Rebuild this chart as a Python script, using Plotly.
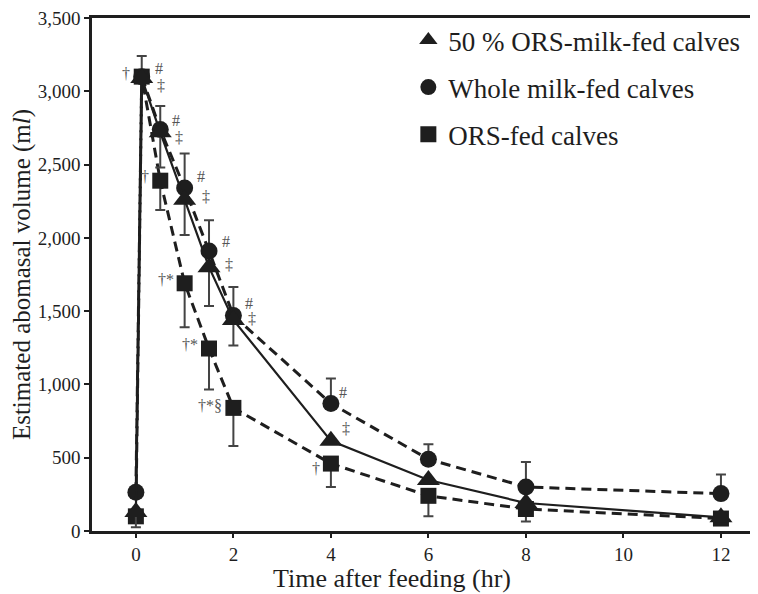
import plotly.graph_objects as go

# ---- data ----
times = [0, 0.12, 0.5, 1, 1.5, 2, 4, 6, 8, 12]

whole_milk = [265, 3100, 2740, 2340, 1910, 1470, 870, 490, 300, 255]
whole_milk_err_plus = [0, 140, 160, 235, 210, 195, 170, 102, 170, 130]

ors_milk = [130, 3090, 2720, 2260, 1800, 1440, 615, 348, 191, 93]
ors_milk_err_minus = [105, 0, 240, 240, 265, 175, 0, 0, 0, 0]

ors = [100, 3100, 2390, 1690, 1245, 840, 460, 240, 150, 85]
ors_err_minus = [0, 0, 200, 300, 280, 260, 160, 140, 85, 0]

x_ticks = [0, 2, 4, 6, 8, 10, 12]
y_ticks = [0, 500, 1000, 1500, 2000, 2500, 3000, 3500]

legend_names = ["50 % ORS-milk-fed calves", "Whole milk-fed calves", "ORS-fed calves"]

INK = "#1e1e1e"
ERR = "#444444"
FONT = "Liberation Serif"

fig = go.Figure()

# ORS-fed (squares, dashed)
fig.add_trace(go.Scatter(
    x=times, y=ors, mode="lines+markers", showlegend=False,
    line=dict(color=INK, width=3, dash="10px,6px"),
    marker=dict(symbol="square", size=16, color=INK),
    error_y=dict(type="data", symmetric=False, array=[0]*len(ors),
                 arrayminus=ors_err_minus, color=ERR, thickness=2, width=5),
))
# Whole milk (circles, dashed)
fig.add_trace(go.Scatter(
    x=times, y=whole_milk, mode="lines+markers", showlegend=False,
    line=dict(color=INK, width=3, dash="10px,6px"),
    marker=dict(symbol="circle", size=17, color=INK),
    error_y=dict(type="data", symmetric=False, array=whole_milk_err_plus,
                 arrayminus=[0]*len(whole_milk), color=ERR, thickness=2, width=5),
))
# 50% ORS-milk (triangles, solid)
fig.add_trace(go.Scatter(
    x=times, y=ors_milk, mode="lines+markers", showlegend=False,
    line=dict(color=INK, width=2.2),
    marker=dict(symbol="triangle-up", size=20, color=INK),
    error_y=dict(type="data", symmetric=False, array=[0]*len(ors_milk),
                 arrayminus=ors_milk_err_minus, color=ERR, thickness=2, width=5),
))

# legend-only entries (markers only)
for name, sym, sz in zip(legend_names, ["triangle-up", "circle", "square"], [20, 19, 17]):
    fig.add_trace(go.Scatter(
        x=[None], y=[None], mode="markers", name=name, legendgroup=name,
        marker=dict(symbol=sym, size=sz, color=INK),
    ))

# significance symbols: (series, index, text, dx, dy, anchor)
series = {"w": whole_milk, "t": ors_milk, "s": ors}
marks = [
    ("w", 1, "#", 11, -8, "left"), ("t", 1, "‡", 13, 7, "left"), ("s", 1, "†", -10, -3, "right"),
    ("w", 2, "#", 10, -9, "left"), ("t", 2, "‡", 13, 5, "left"), ("s", 2, "†", -9, -4, "right"),
    ("w", 3, "#", 10, -12, "left"), ("t", 3, "‡", 15, -3, "left"), ("s", 3, "†*", -9, -4, "right"),
    ("w", 4, "#", 11, -10, "left"), ("t", 4, "‡", 14, -3, "left"), ("s", 4, "†*", -9, -4, "right"),
    ("w", 5, "#", 10, -12, "left"), ("t", 5, "‡", 13, -1, "left"), ("s", 5, "†*§", -9, -2, "right"),
    ("w", 6, "#", 6, -11, "left"), ("t", 6, "‡", 9, -12, "left"), ("s", 6, "†", -9, 5, "right"),
]
annotations = []
for key, i, txt, dx, dy, anc in marks:
    annotations.append(dict(
        x=times[i], y=series[key][i], xref="x", yref="y", text=txt,
        showarrow=False, xanchor=anc, yanchor="middle",
        xshift=dx, yshift=-dy,
        font=dict(family=FONT, size=16, color="#555555"),
    ))

# x-axis title as annotation (centred like the reference)
annotations.append(dict(
    x=5.26, y=0, xref="x", yref="paper", yanchor="top", yshift=-31,
    text="Time after feeding (hr)", showarrow=False,
    font=dict(family=FONT, size=26, color=INK),
))

# the page body adds 8px of offset; the figure is sized to fill the rest
fig.update_layout(
    width=750, height=586,
    margin=dict(l=84, r=0, t=10, b=63),
    paper_bgcolor="white", plot_bgcolor="white",
    font=dict(family=FONT, color=INK),
    annotations=annotations,
    legend=dict(x=0.475, y=1.004, xanchor="left", yanchor="top",
                font=dict(family=FONT, size=27, color=INK),
                tracegroupgap=9, traceorder="grouped",
                bgcolor="rgba(0,0,0,0)"),
    xaxis=dict(range=[-0.9, 12.76], tickvals=x_ticks, ticks="outside", ticklen=4,
               tickwidth=2, tickcolor=INK, showline=True, linewidth=2.5, linecolor=INK,
               mirror=True, showgrid=False, zeroline=False,
               tickfont=dict(family=FONT, size=19, color=INK)),
    yaxis=dict(range=[0, 3500], tickvals=y_ticks, tickformat=",", ticks="outside",
               ticklen=5, tickwidth=2, tickcolor=INK, showline=True, linewidth=2.5,
               linecolor=INK, showgrid=False, zeroline=False,
               ticklabeloverflow="allow",
               tickfont=dict(family=FONT, size=19, color=INK),
               title=dict(text="Estimated abomasal volume (m<i>l</i>)",
                          font=dict(family=FONT, size=25, color=INK), standoff=12)),
)

fig.write_html("out.html")
